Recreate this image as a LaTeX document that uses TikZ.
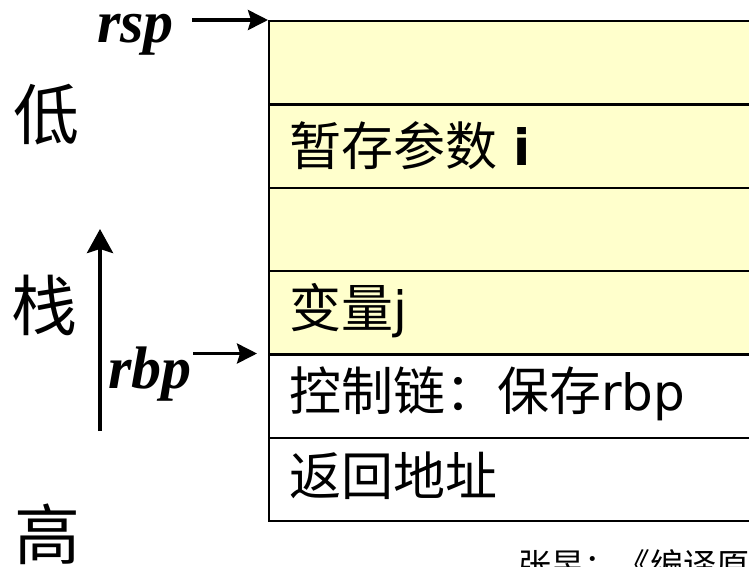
\documentclass[tikz,border=0pt]{standalone}
\usepackage{fontspec}
\setmainfont{DejaVu Sans}
\newfontfamily\cjk{Noto Sans CJK SC}
\newfontfamily\tnr{Liberation Serif}
\usetikzlibrary{arrows.meta}
\definecolor{cellyellow}{HTML}{FFFFCC}
\newcommand{\cellcjk}[1]{{\cjk\fontsize{52}{52}\selectfont #1}}
\tikzset{
  cell/.style={draw, line width=2pt, anchor=north west, minimum width=520pt, minimum height=83pt, inner sep=0pt},
  celltext/.style={anchor=west, inner sep=0pt, font=\fontsize{50}{50}\selectfont},
  sidelabel/.style={inner sep=0pt, font=\cjk\fontsize{66}{66}\selectfont},
  reglabel/.style={inner sep=0pt, font=\tnr\bfseries\itshape\fontsize{60}{60}\selectfont},
  ptr/.style={line width=3.5pt, -{Stealth[length=20pt,width=20pt,inset=3pt]}},
}
\begin{document}
\begin{tikzpicture}[x=1pt,y=-1pt]
\useasboundingbox (0,0) rectangle (749,566);
\clip (0,0) rectangle (749,566);
\fill[white] (0,0) rectangle (749,566);
% stack rows
\node[cell, fill=cellyellow] (r1) at (268,20) {};
\node[cell, fill=cellyellow] (r2) at (268,103.5) {};
\node[cell, fill=cellyellow] (r3) at (268,187) {};
\node[cell, fill=cellyellow] (r4) at (268,270) {};
\node[cell, fill=white] (r5) at (268,353.5) {};
\node[cell, fill=white] (r6) at (268,437) {};
% row texts
\node[celltext] (t2) at ([xshift=21pt]r2.west) {\cellcjk{暂存参数} \textbf{i}};
\node[celltext] (t4) at ([xshift=21pt,yshift=2pt]r4.west) {\cellcjk{变量}j};
\node[celltext] (t5) at ([xshift=21pt,yshift=2pt]r5.west) {\cellcjk{控制链：保存}rbp};
\node[celltext] (t6) at ([xshift=21pt,yshift=4pt]r6.west) {\cellcjk{返回地址}};
% side labels
\node[sidelabel] (low) at (46,115) {低};
\node[sidelabel] (mid) at (45,305) {栈};
\node[sidelabel] (high) at (47,534) {高};
% growth arrow
\coordinate (gbot) at (100,431);
\coordinate (gtop) at (100,229);
\draw[line width=4pt, -{Stealth[length=24pt,width=26pt,inset=4pt]}] (gbot) -- (gtop);
% register pointers
\node[reglabel, anchor=base west] (rsp) at (97,42) {rsp};
\node[reglabel, anchor=base west] (rbp) at (108,388) {rbp};
\coordinate (rspend) at (268,20);
\coordinate (rbpstart) at (193,353.5);
\coordinate (rbpend) at (257,353.5);
\draw[ptr] (192,20) -- (rspend);
\draw[ptr] (rbpstart) -- (rbpend);
% source note
\node[anchor=north west, inner sep=0pt, font=\cjk\fontsize{33}{33}\selectfont] (src) at (518,549) {张昱：《编译原理》};
\end{tikzpicture}
\end{document}
